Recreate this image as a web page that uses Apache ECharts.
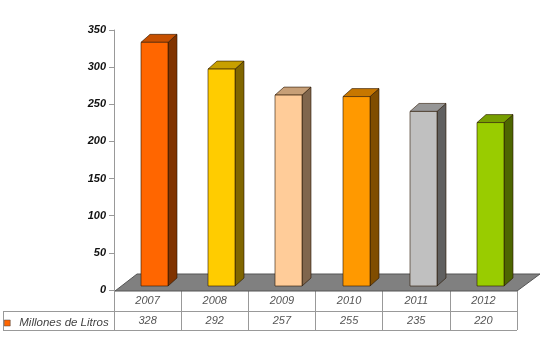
<!DOCTYPE html>
<html><head><meta charset="utf-8">
<script src="https://cdn.jsdelivr.net/npm/echarts@6/dist/echarts.min.js"></script>
<style>html,body{margin:0;padding:0;background:#fff}#c{width:550px;height:364px}</style>
</head><body><div id="c"></div>
<script>
const categories = ['2007','2008','2009','2010','2011','2012'];
const values = [328, 292, 257, 255, 235, 220];
const seriesName = 'Millones de Litros';
const yTicks = [0, 50, 100, 150, 200, 250, 300, 350];

const frontColors = ['#FF6600','#FFCC00','#FFCC99','#FF9900','#C0C0C0','#99CC00'];
function shade(hex, f){
  const n = parseInt(hex.slice(1),16);
  const r = Math.round(((n>>16)&255)*f), g = Math.round(((n>>8)&255)*f), b = Math.round((n&255)*f);
  return 'rgb(' + r + ',' + g + ',' + b + ')';
}
const chart = echarts.init(document.getElementById('c'), null, {renderer:'canvas'});
const font = '"Liberation Sans", Arial, sans-serif';
chart.setOption({
  animation:false,
  backgroundColor:'#fff',
  grid:{left:114, right:33, top:30, bottom:74},
  legend:{
    left:0, top:312, itemWidth:6, itemHeight:6, itemGap:0,
    icon:'rect', padding:[5,4,5,4],
    textStyle:{fontFamily:font, fontSize:11.5, fontStyle:'italic', color:'#444', padding:[0,0,0,4]},
    data:[{name:seriesName, itemStyle:{color:'#FF6600', borderColor:'#444', borderWidth:0.5}}]
  },
  xAxis:{
    type:'category', data:categories,
    axisLine:{show:true, lineStyle:{color:'#999'}},
    axisTick:{show:true, length:40, lineStyle:{color:'#999'}},
    axisLabel:{
      margin:1, interval:0,
      formatter:function(v, i){ return '{a|' + v + '}\n{a|' + values[i] + '}'; },
      rich:{a:{fontFamily:font, fontSize:11, fontStyle:'italic', color:'#555', lineHeight:20, height:20}}
    }
  },
  yAxis:{
    type:'value', min:yTicks[0], max:yTicks[yTicks.length-1], interval:50,
    axisLine:{show:true, lineStyle:{color:'#999'}},
    axisTick:{show:true, length:5, lineStyle:{color:'#999'}},
    splitLine:{show:false},
    axisLabel:{margin:8, fontFamily:font, fontSize:11, fontWeight:'bold', fontStyle:'italic', color:'#111'}
  },
  graphic:[
    {type:'polygon', z:1, shape:{points:[[115,291],[137,274],[540,274],[517,291]]},
     style:{fill:'#808080', stroke:'#555', lineWidth:1}},
    {type:'line', z:1, shape:{x1:3, y1:311.5, x2:517, y2:311.5}, style:{stroke:'#999', lineWidth:1}},
    {type:'line', z:1, shape:{x1:3, y1:330.5, x2:517, y2:330.5}, style:{stroke:'#999', lineWidth:1}},
    {type:'line', z:1, shape:{x1:3.5, y1:311.5, x2:3.5, y2:330.5}, style:{stroke:'#999', lineWidth:1}}
  ],
  series:[{
    type:'custom', name:seriesName, z:5,
    data: values.map(function(v,i){ return [i, v]; }),
    itemStyle:{color:'#FF6600'},
    renderItem:function(params, api){
      const i = api.value(0);
      const base = api.coord([i, 0]);
      const top = api.coord([i, api.value(1)]);
      const cx = base[0] + 7, w = 27, dx = 9, dy = 8, off = 4;
      const x0 = Math.round(cx - w/2), x1 = x0 + w;
      const yb = base[1] - off, yt = top[1] - off;
      const c = frontColors[params.dataIndex];
      const st = {stroke:'rgba(40,20,0,0.75)', lineWidth:0.8};
      return {type:'group', children:[
        {type:'polygon', shape:{points:[[x1,yt],[x1+dx,yt-dy],[x1+dx,yb-dy],[x1,yb]]}, style:Object.assign({fill:shade(c,0.5)}, st)},
        {type:'polygon', shape:{points:[[x0,yt],[x1,yt],[x1+dx,yt-dy],[x0+dx,yt-dy]]}, style:Object.assign({fill:shade(c,0.78)}, st)},
        {type:'rect', shape:{x:x0, y:yt, width:w, height:yb-yt}, style:Object.assign({fill:c}, st)}
      ]};
    }
  }]
});
</script></body></html>
